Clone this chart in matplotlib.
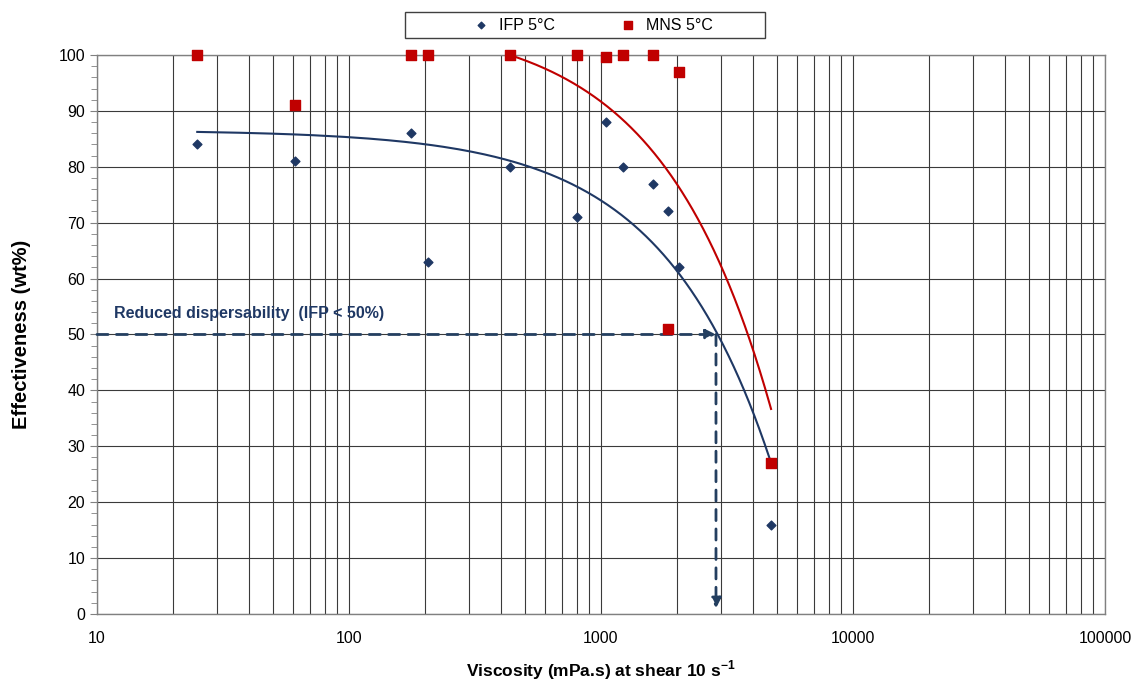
import numpy as np
import matplotlib
matplotlib.use("Agg")
import matplotlib.pyplot as plt
from matplotlib.patches import Rectangle
from matplotlib.ticker import LogLocator, MultipleLocator, NullFormatter

plt.rcParams['font.family'] = ['Liberation Sans', 'DejaVu Sans']

# IFP 5°C data
ifp_x = [25, 61, 176, 206, 435, 804, 1047, 1222, 1607, 1845, 2040, 4730]
ifp_y = [84, 81, 86, 63, 80, 71, 88, 80, 77, 72, 62, 16]
# MNS 5°C data
mns_x = [25, 61, 176, 206, 435, 804, 1047, 1222, 1607, 2040, 1845, 4730]
mns_y = [100, 91, 100, 100, 100, 100, 99.6, 100, 100, 97, 51, 27]

# trend line for MNS: intercept, slope, x range
mns_trend_coef = [106.4, -0.01474]
mns_trend_range = [435, 4730]
ifp_trend_range = [25, 4730]

# threshold
thr_y = 50
thr_x = 2860

navy = '#1F3864'
red = '#C00000'

fig = plt.figure(figsize=(11.38, 6.82), dpi=100)
ax = fig.add_axes([0.0852, 0.0997, 0.8858, 0.8197])
ax.set_xscale('log')
ax.set_xlim(10, 100000)
ax.set_ylim(0, 100)

# grid
ax.xaxis.set_major_locator(LogLocator(base=10, numticks=10))
ax.xaxis.set_minor_locator(LogLocator(base=10, subs=np.arange(2, 10), numticks=10))
ax.xaxis.set_minor_formatter(NullFormatter())
ax.yaxis.set_major_locator(MultipleLocator(10))
ax.yaxis.set_minor_locator(MultipleLocator(2))
ax.grid(True, which='major', axis='both', color='#3a3a3a', lw=0.8)
ax.grid(True, which='minor', axis='x', color='#3a3a3a', lw=0.8)
ax.set_axisbelow(True)
ax.set_xticks([10, 100, 1000, 10000, 100000])
ax.set_xticklabels(['10', '100', '1000', '10000', '100000'])
ax.tick_params(axis='x', which='both', length=0, labelsize=11.5, pad=12)
ax.tick_params(axis='y', which='major', length=5, direction='out', labelsize=11.5, color='#808080')
ax.tick_params(axis='y', which='minor', length=4, direction='out', color='#808080')
for s in ax.spines.values():
    s.set_color('#808080')
    s.set_linewidth(1.0)

# trend lines
cf = np.polyfit(ifp_x, ifp_y, 1)
tx = np.linspace(ifp_trend_range[0], ifp_trend_range[1], 400)
ax.plot(tx, np.polyval(cf, tx), color=navy, lw=1.5, zorder=3)
tx2 = np.linspace(mns_trend_range[0], mns_trend_range[1], 400)
ax.plot(tx2, mns_trend_coef[0] + mns_trend_coef[1] * tx2, color=red, lw=1.5, zorder=3)

# scatter
ax.scatter(ifp_x, ifp_y, marker='D', s=20, color=navy, zorder=5, label='IFP 5°C', clip_on=False)
ax.scatter(mns_x, mns_y, marker='s', s=48, color=red, zorder=5, label='MNS 5°C', clip_on=False)

# dashed arrows
ax.annotate('', xy=(thr_x, thr_y), xytext=(10, thr_y),
            arrowprops=dict(arrowstyle='-|>', color='#243F60', lw=2, ls=(0, (4, 3)),
                            mutation_scale=15, shrinkA=0, shrinkB=0), zorder=4)
ax.annotate('', xy=(thr_x, 1), xytext=(thr_x, thr_y),
            arrowprops=dict(arrowstyle='-|>', color='#243F60', lw=2, ls=(0, (4, 3)),
                            mutation_scale=15, shrinkA=0, shrinkB=0), zorder=4)

ax.text(11.7, 53.7, 'Reduced dispersability  (IFP < 50%)', color=navy, fontsize=11.5,
        fontweight='bold', va='center', ha='left')

ax.set_xlabel('Viscosity (mPa.s) at shear 10 s$^{\\mathregular{-1}}$', fontsize=12.5, fontweight='bold', labelpad=9)
ax.set_ylabel('Effectiveness (wt%)', fontsize=14.5, fontweight='bold', labelpad=20)

# legend box drawn separately, entries without frame
fig.patches.append(Rectangle((405 / 1138, 1 - 38 / 682), 360 / 1138, 26 / 682,
                             transform=fig.transFigure, fill=False, edgecolor='#404040', lw=1.0))
leg = fig.legend(loc='center', bbox_to_anchor=(592 / 1138, 1 - 25 / 682), ncol=2, frameon=False,
                 fontsize=11.5, handletextpad=0.5, columnspacing=4.0,
                 borderpad=0.2, handlelength=1.2, markerscale=0.75)

fig.savefig('out.png', dpi=100)
